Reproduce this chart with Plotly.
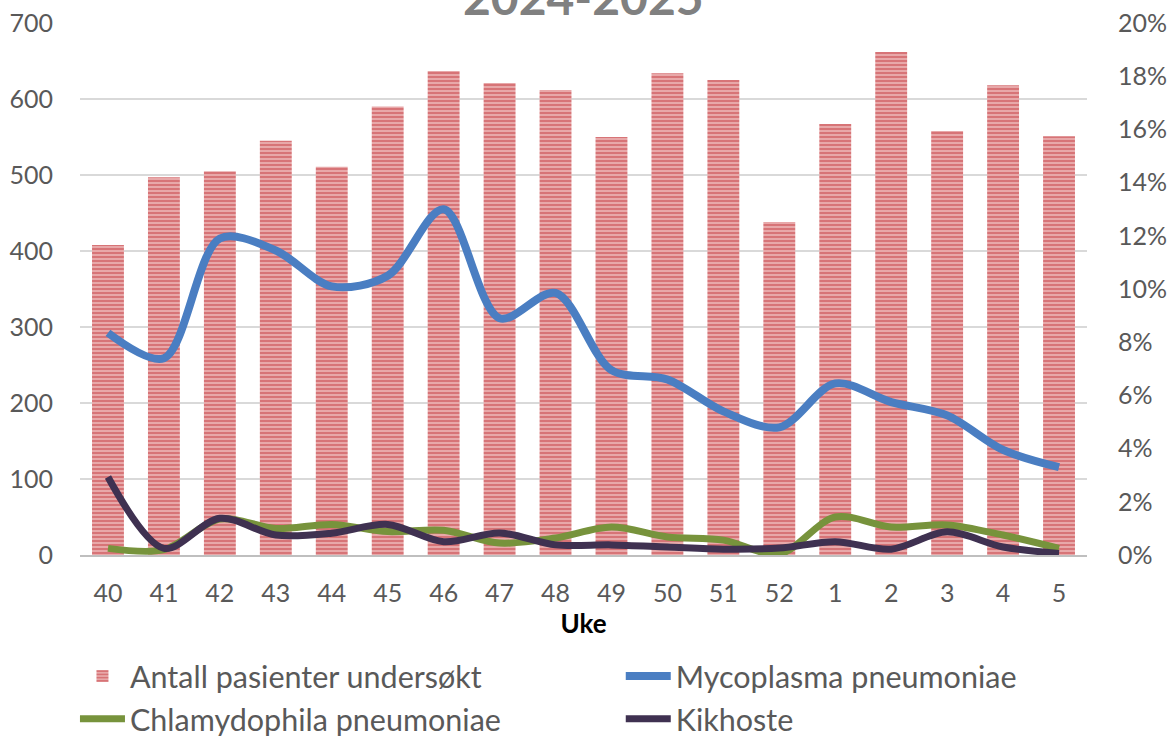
import plotly.graph_objects as go

weeks = ["40", "41", "42", "43", "44", "45", "46", "47", "48", "49", "50", "51", "52",
         "1", "2", "3", "4", "5"]
antall = [408, 497, 505, 545, 511, 590, 637, 621, 612, 550, 634, 625, 438, 567, 662, 558, 618, 551]
mycoplasma = [0.0835, 0.074, 0.119, 0.1145, 0.101, 0.105, 0.130, 0.089, 0.0985, 0.0695,
              0.066, 0.054, 0.048, 0.0645, 0.0575, 0.0525, 0.0395, 0.033]
chlamydophila = [0.0025, 0.002, 0.0135, 0.010, 0.0115, 0.0088, 0.0093, 0.0045, 0.0064, 0.0105,
                 0.0068, 0.0056, 0.0004, 0.0143, 0.0105, 0.0113, 0.0075, 0.0025]
kikhoste = [0.0293, 0.0025, 0.0138, 0.0075, 0.0082, 0.0115, 0.005, 0.0083, 0.0038, 0.0038,
            0.003, 0.0022, 0.0026, 0.005, 0.0022, 0.0087, 0.003, 0.0006]

FONT = "Lato, 'Open Sans', sans-serif"
GRAY = "#595959"

fig = go.Figure()
fig.add_trace(go.Bar(
    x=weeks, y=antall, name="Antall pasienter undersøkt",
    width=0.57, legend="legend",
    marker=dict(color="#EAAEAE", line=dict(width=0),
                pattern=dict(shape="-", fgcolor="#C33A40", bgcolor="#EAAEAE",
                             size=4, solidity=0.55, fillmode="overlay")),
))
fig.add_trace(go.Scatter(
    x=weeks, y=mycoplasma, name="Mycoplasma pneumoniae", yaxis="y2", legend="legend2",
    mode="lines", line=dict(color="#4A7EC2", width=8, shape="spline", smoothing=0.9),
))
fig.add_trace(go.Scatter(
    x=weeks, y=chlamydophila, name="Chlamydophila pneumoniae", yaxis="y2", legend="legend",
    mode="lines", line=dict(color="#77933C", width=7, shape="spline", smoothing=0.9),
))
fig.add_trace(go.Scatter(
    x=weeks, y=kikhoste, name="Kikhoste", yaxis="y2", legend="legend2",
    mode="lines", line=dict(color="#3F3151", width=7, shape="spline", smoothing=0.9),
))

legend_common = dict(orientation="v", yanchor="top", xanchor="left",
                     font=dict(family=FONT, size=30.5, color=GRAY),
                     itemwidth=45, tracegroupgap=0, traceorder="normal",
                     bgcolor="rgba(0,0,0,0)")

fig.update_layout(
    width=1172, height=738,
    margin=dict(l=80, r=85, t=23, b=183, autoexpand=False),
    paper_bgcolor="white", plot_bgcolor="white",
    font=dict(family=FONT, size=25, color=GRAY),
    showlegend=True,
    legend=dict(x=-0.005, y=-0.178, **legend_common),
    legend2=dict(x=0.537, y=-0.178, **legend_common),
    xaxis=dict(type="category", showgrid=False, showline=True, linecolor="#BFBFBF",
               linewidth=2, ticks="", ticklabelstandoff=15,
               tickfont=dict(family=FONT, size=25, color=GRAY),
               title=dict(text="<b>Uke</b>", font=dict(family=FONT, size=26, color="black"),
                          standoff=8)),
    yaxis=dict(range=[0, 700], dtick=100, showgrid=True, gridcolor="#D9D9D9", gridwidth=2,
               zeroline=False, ticks="", ticklabelstandoff=26,
               tickfont=dict(family=FONT, size=25, color=GRAY)),
    yaxis2=dict(range=[0, 0.2], dtick=0.02, tickformat=".0%", overlaying="y", side="right",
                showgrid=False, zeroline=False, ticks="", ticklabelstandoff=30,
                tickfont=dict(family=FONT, size=25, color=GRAY)),
    annotations=[dict(text="<b>2024-2025</b>", xref="paper", yref="paper", x=0.5, y=1,
                      xanchor="center", yanchor="bottom", yshift=-4, showarrow=False,
                      font=dict(family=FONT, size=48, color="#808080"))],
)

fig.write_html("out.html", config={"displayModeBar": False},
               post_script="document.body.style.margin='0';")
